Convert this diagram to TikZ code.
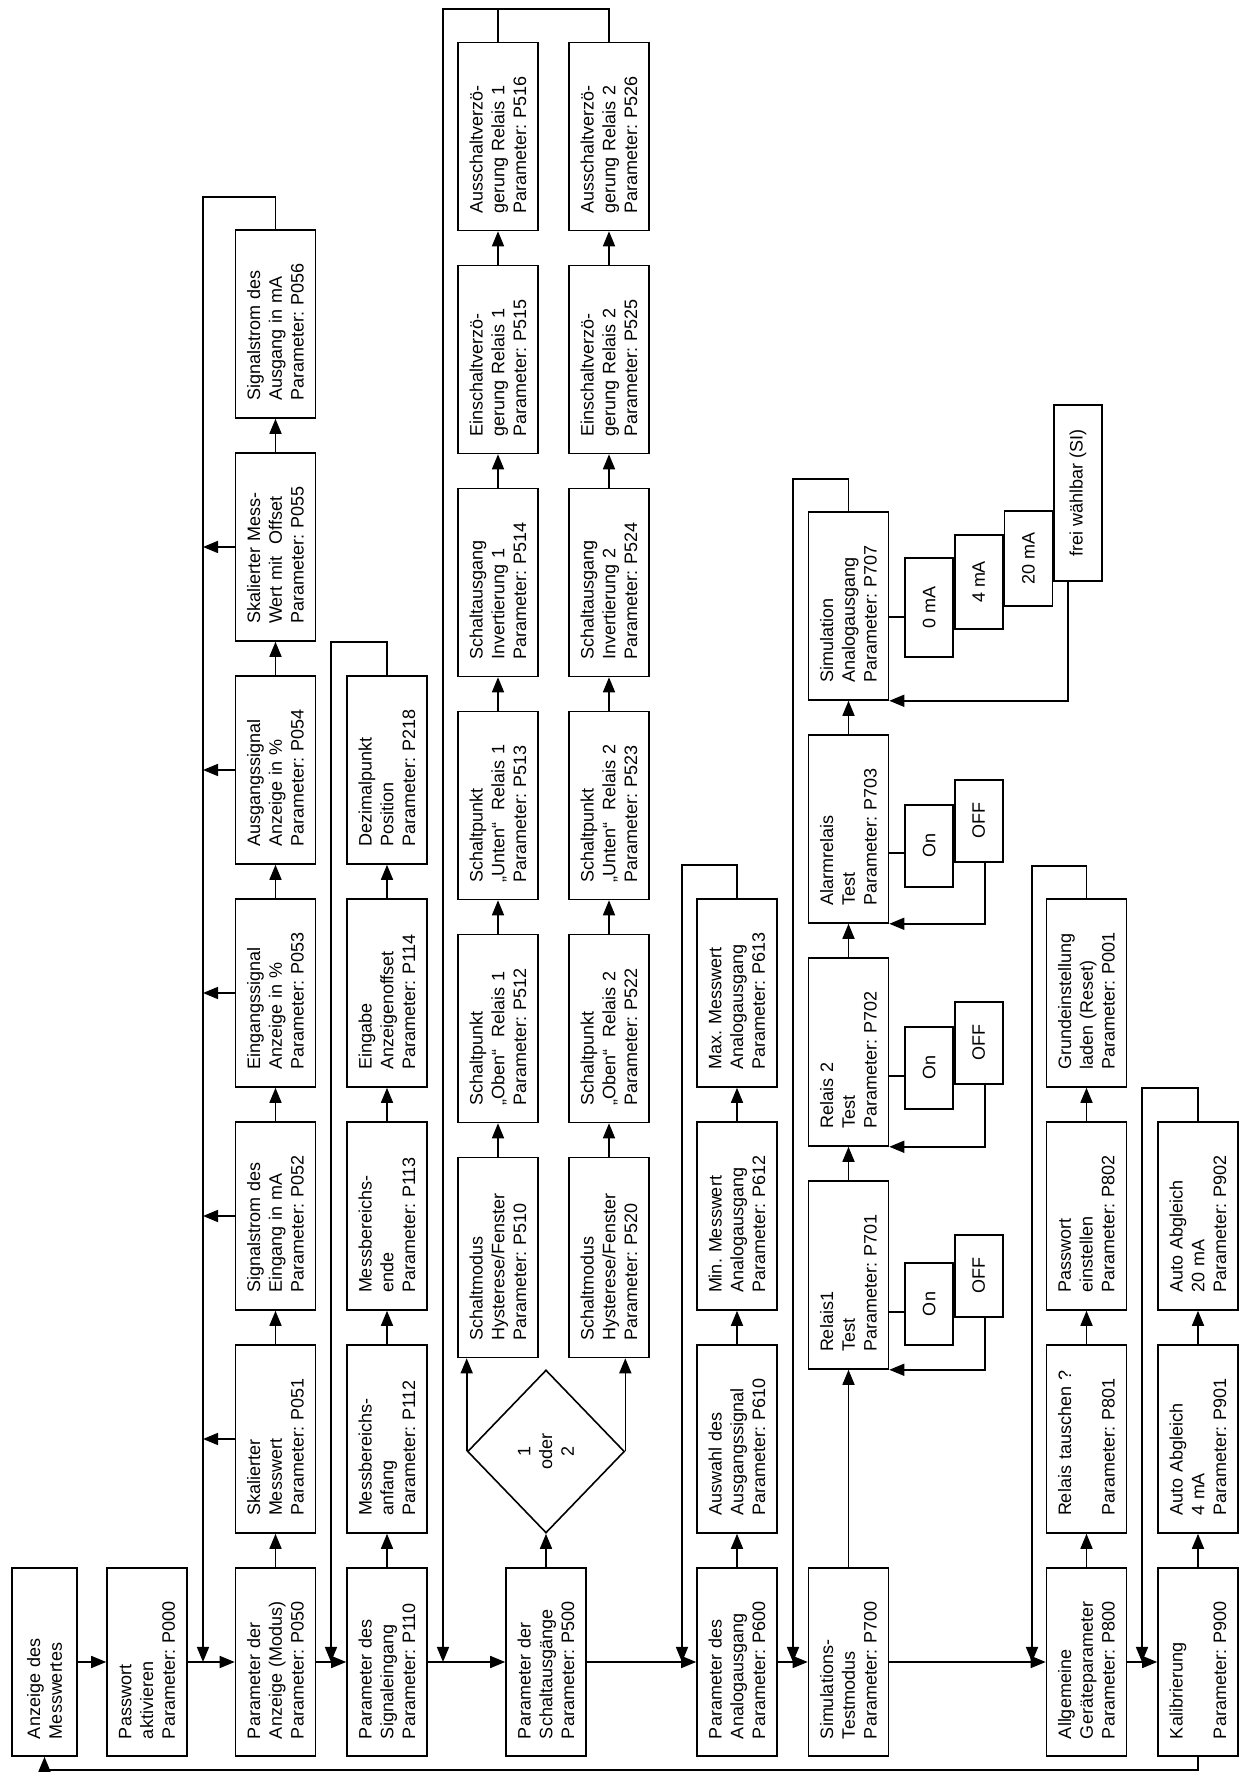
\documentclass[tikz,border=0pt]{standalone}
\usepackage{fontspec}
\setmainfont{Liberation Sans}
\usetikzlibrary{arrows.meta,positioning,shapes.geometric}
\frenchspacing

\begin{document}
\begin{tikzpicture}[
  x=1pt, y=1pt, rotate=90, transform shape,
  node distance=33.4pt,
  line width=1.6pt,
  font=\fontsize{18}{21.7}\selectfont,
  pbox/.style={draw, align=left, text width=#1, inner xsep=17pt,
               minimum height=80pt},
  pbox/.default=154pt,
  obox/.style={draw, align=center, minimum width=#1, minimum height=48pt,
               inner sep=0pt},
  obox/.default=82pt,
  dec/.style={draw, diamond, align=center, minimum width=163pt,
              minimum height=157pt, inner sep=0pt},
  arr/.style={-{Triangle[length=15pt,width=12pt]}}
]
\fill[white] (0,-1243) rectangle (1773,0);
\useasboundingbox (0,-1243) rectangle (1773,0);

% Hauptmenue
\node[pbox, minimum height=65pt] (anz) at (111,-44.5) {Anzeige des\\Messwertes};
\node[pbox] (p000) at (111,-147) {Passwort\\aktivieren\\Parameter: P000};
\node[pbox] (p050) at (111,-275.5) {Parameter der\\Anzeige (Modus)\\Parameter: P050};
\node[pbox] (p110) at (111,-387) {Parameter des\\Signaleingang\\Parameter: P110};
\node[pbox] (p500) at (111,-546) {Parameter der\\Schaltausgänge\\Parameter: P500};
\node[pbox] (p600) at (111,-737) {Parameter des\\Analogausgang\\Parameter: P600};
\node[pbox] (p700) at (111,-848.5) {Simulations-\\Testmodus\\Parameter: P700};
\node[pbox] (p800) at (111,-1086.5) {Allgemeine\\Geräteparameter\\Parameter: P800};
\node[pbox] (p900) at (111,-1198) {Kalibrierung\\\mbox{}\\Parameter: P900};

% Anzeige
\node[pbox, right=of p050] (p051) {Skalierter\\Messwert\\Parameter: P051};
\node[pbox, right=of p051] (p052) {Signalstrom des\\Eingang in mA\\Parameter: P052};
\node[pbox, right=of p052] (p053) {Eingangssignal\\Anzeige in \%\\Parameter: P053};
\node[pbox, right=of p053] (p054) {Ausgangssignal\\Anzeige in \%\\Parameter: P054};
\node[pbox, right=of p054] (p055) {Skalierter Mess-\\Wert mit~ Offset\\Parameter: P055};
\node[pbox, right=of p055] (p056) {Signalstrom des\\Ausgang in mA\\Parameter: P056};

% Signaleingang
\node[pbox, right=of p110] (p112) {Messbereichs-\\anfang\\Parameter: P112};
\node[pbox, right=of p112] (p113) {Messbereichs-\\ende\\Parameter: P113};
\node[pbox, right=of p113] (p114) {Eingabe\\Anzeigenoffset\\Parameter: P114};
\node[pbox, right=of p114] (p218) {Dezimalpunkt\\Position\\Parameter: P218};

% Schaltausgaenge
\node[dec, right=of p500] (wahl) {1\\oder\\2};
\node[pbox=166pt] (p510) at (515.5,-498) {Schaltmodus\\Hysterese/Fenster\\Parameter: P510};
\node[pbox, right=of p510] (p512) {Schaltpunkt\\„Oben“~ Relais 1\\Parameter: P512};
\node[pbox, right=of p512] (p513) {Schaltpunkt\\„Unten“~ Relais 1\\Parameter: P513};
\node[pbox, right=of p513] (p514) {Schaltausgang\\Invertierung 1\\Parameter: P514};
\node[pbox, right=of p514] (p515) {Einschaltverzö-\\gerung Relais 1\\Parameter: P515};
\node[pbox, right=of p515] (p516) {Ausschaltverzö-\\gerung Relais 1\\Parameter: P516};
\node[pbox=166pt] (p520) at (515.5,-609) {Schaltmodus\\Hysterese/Fenster\\Parameter: P520};
\node[pbox, right=of p520] (p522) {Schaltpunkt\\„Oben“~ Relais 2\\Parameter: P522};
\node[pbox, right=of p522] (p523) {Schaltpunkt\\„Unten“~ Relais 2\\Parameter: P523};
\node[pbox, right=of p523] (p524) {Schaltausgang\\Invertierung 2\\Parameter: P524};
\node[pbox, right=of p524] (p525) {Einschaltverzö-\\gerung Relais 2\\Parameter: P525};
\node[pbox, right=of p525] (p526) {Ausschaltverzö-\\gerung Relais 2\\Parameter: P526};

% Analogausgang
\node[pbox, right=of p600] (p610) {Auswahl des\\Ausgangssignal\\Parameter: P610};
\node[pbox, right=of p610] (p612) {Min. Messwert\\Analogausgang\\Parameter: P612};
\node[pbox, right=of p612] (p613) {Max. Messwert\\Analogausgang\\Parameter: P613};

% Simulation / Test
\node[pbox, right=197.4pt of p700] (p701) {Relais1\\Test\\Parameter: P701};
\node[pbox, right=of p701] (p702) {Relais 2\\Test\\Parameter: P702};
\node[pbox, right=of p702] (p703) {Alarmrelais\\Test\\Parameter: P703};
\node[pbox, right=of p703] (p707) {Simulation\\Analogausgang\\Parameter: P707};
\node[obox, below right=15pt and 24pt of p701.south west] (on1) {On};
\node[obox, below right=0pt and 28pt of on1.south west] (off1) {OFF};
\node[obox, below right=15pt and 37pt of p702.south west] (on2) {On};
\node[obox, below right=0pt and 25pt of on2.south west] (off2) {OFF};
\node[obox, below right=15pt and 36pt of p703.south west] (on3) {On};
\node[obox, below right=0pt and 25pt of on3.south west] (off3) {OFF};
\node[obox=99pt, below right=15pt and 43pt of p707.south west] (ma0) {0 mA};
\node[obox=94pt, below right=0pt and 28pt of ma0.south west] (ma4) {4 mA};
\node[obox=95pt, below right=0pt and 23pt of ma4.south west] (ma20) {20 mA};
\node[obox=176pt, below right=0pt and 25pt of ma20.south west] (mafrei) {frei wählbar (SI)};

% Geraeteparameter
\node[pbox, right=of p800] (p801) {Relais tauschen ?\\\mbox{}\\Parameter: P801};
\node[pbox, right=of p801] (p802) {Passwort\\einstellen\\Parameter: P802};
\node[pbox, right=of p802] (p001) {Grundeinstellung\\laden (Reset)\\Parameter: P001};

% Kalibrierung
\node[pbox, right=of p900] (p901) {Auto Abgleich\\4 mA\\Parameter: P901};
\node[pbox, right=of p901] (p902) {Auto Abgleich\\20 mA\\Parameter: P902};

% Ruecksprungpunkte
\coordinate (top050) at (1576,-203);
\coordinate (top110) at (1131,-331);
\coordinate (top500) at (1764,-443);
\coordinate (top600) at (908,-682);
\coordinate (top700) at (1294,-793);
\coordinate (top800) at (907,-1032);
\coordinate (top900) at (685,-1142);
\coordinate (back) at (3,0);

% Hauptlinie
\draw[arr] (anz) -- (p000); \draw[arr] (p000) -- (p050);
\draw[arr] (p050) -- (p110); \draw[arr] (p110) -- (p500);
\draw[arr] (p500) -- (p600); \draw[arr] (p600) -- (p700);
\draw[arr] (p700) -- (p800); \draw[arr] (p800) -- (p900);
\draw[arr] (p900.west) -- (p900.west -| back) |- (anz.west);

% Untermenues
\draw[arr] (p050) -- (p051); \draw[arr] (p051) -- (p052); \draw[arr] (p052) -- (p053);
\draw[arr] (p053) -- (p054); \draw[arr] (p054) -- (p055); \draw[arr] (p055) -- (p056);
\draw[arr] (p051.north) -- (p051.north |- top050); \draw[arr] (p052.north) -- (p052.north |- top050);
\draw[arr] (p053.north) -- (p053.north |- top050); \draw[arr] (p054.north) -- (p054.north |- top050);
\draw[arr] (p055.north) -- (p055.north |- top050);
\draw[arr] (p056.east) -| (top050) -- (top050 -| p000);

\draw[arr] (p110) -- (p112); \draw[arr] (p112) -- (p113);
\draw[arr] (p113) -- (p114); \draw[arr] (p114) -- (p218);
\draw[arr] (p218.east) -| (top110) -- (top110 -| p050);

\draw[arr] (p500.east |- wahl.west) -- (wahl.west);
\draw[arr] (wahl.north) -- (wahl.north -| p510.west);
\draw[arr] (wahl.south) -- (wahl.south -| p520.west);
\draw[arr] (p510) -- (p512); \draw[arr] (p512) -- (p513); \draw[arr] (p513) -- (p514);
\draw[arr] (p514) -- (p515); \draw[arr] (p515) -- (p516);
\draw[arr] (p520) -- (p522); \draw[arr] (p522) -- (p523); \draw[arr] (p523) -- (p524);
\draw[arr] (p524) -- (p525); \draw[arr] (p525) -- (p526);
\draw (p516.east) -- (p516.east -| top500);
\draw[arr] (p526.east) -| (top500) -- (top500 -| p110);

\draw[arr] (p600) -- (p610); \draw[arr] (p610) -- (p612); \draw[arr] (p612) -- (p613);
\draw[arr] (p613.east) -| (top600) -- (top600 -| p500);

\draw[arr] (p700) -- (p701); \draw[arr] (p701) -- (p702);
\draw[arr] (p702) -- (p703); \draw[arr] (p703) -- (p707);
\draw ([xshift=34pt]on1.north west) -- ([xshift=34pt]on1.north west |- p701.south);
\draw ([xshift=34pt]on2.north west) -- ([xshift=34pt]on2.north west |- p702.south);
\draw ([xshift=35pt]on3.north west) -- ([xshift=35pt]on3.north west |- p703.south);
\draw ([xshift=41pt]ma0.north west) -- ([xshift=41pt]ma0.north west |- p707.south);
\draw[arr] ([yshift=-31pt]off1.north west) -| (p701.south west);
\draw[arr] ([yshift=-31pt]off2.north west) -| (p702.south west);
\draw[arr] ([yshift=-31pt]off3.north west) -| (p703.south west);
\draw[arr] ([yshift=-15pt]mafrei.north west) -| (p707.south west);
\draw[arr] (p707.east) -| (top700) -- (top700 -| p600);

\draw[arr] (p800) -- (p801); \draw[arr] (p801) -- (p802); \draw[arr] (p802) -- (p001);
\draw[arr] (p001.east) -| (top800) -- (top800 -| p700);

\draw[arr] (p900) -- (p901); \draw[arr] (p901) -- (p902);
\draw[arr] (p902.east) -| (top900) -- (top900 -| p800);
\end{tikzpicture}
\end{document}
